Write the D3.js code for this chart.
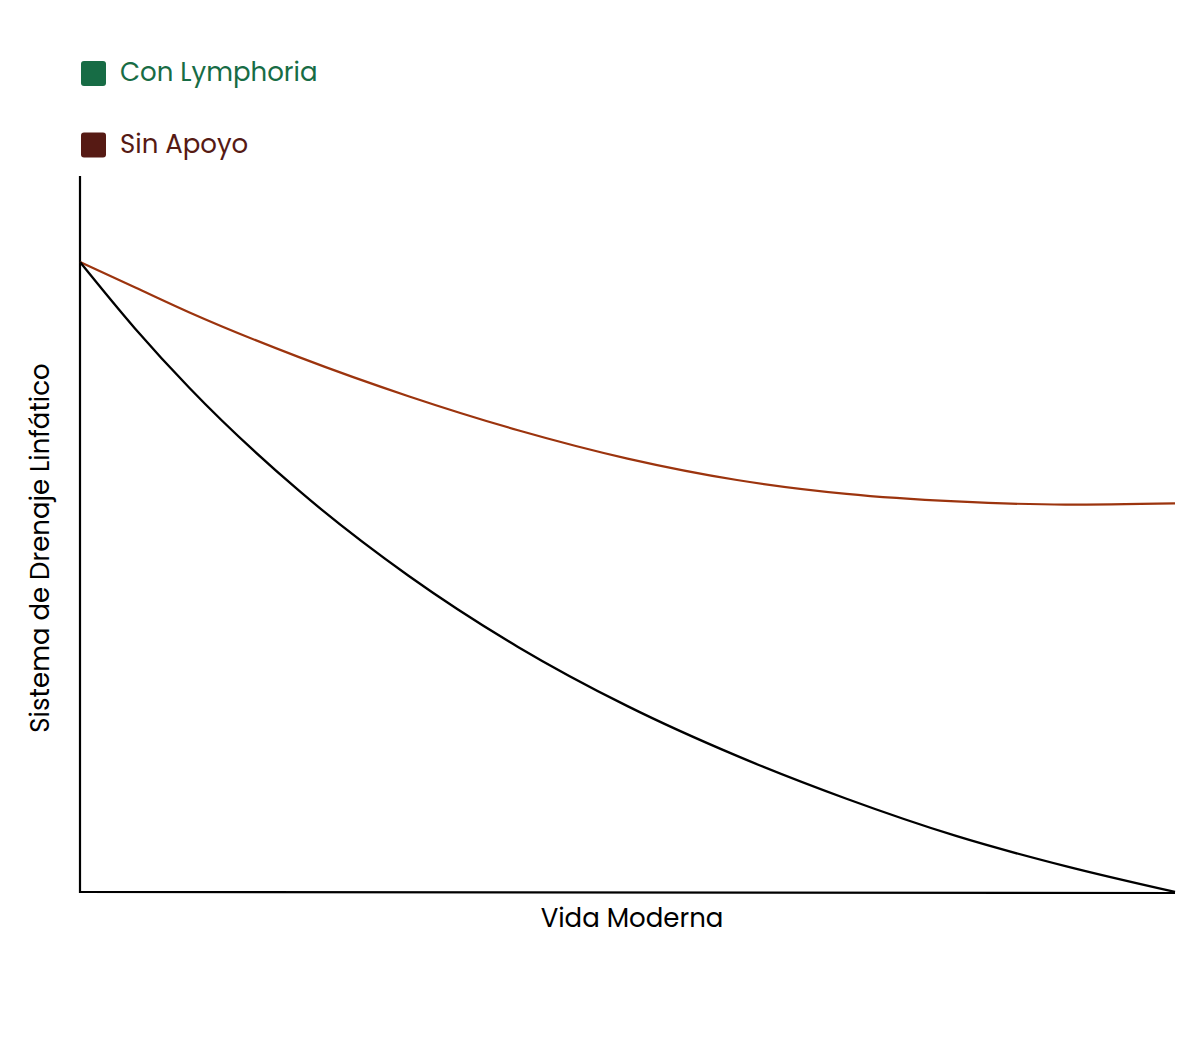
<!DOCTYPE html>
<html>
<head>
<meta charset="utf-8">
<script src="https://cdn.jsdelivr.net/npm/d3@7"></script>
<style>
  body { margin: 0; background: #fff; }
  text { font-family: Poppins, Inter, "Noto Sans", sans-serif; }
</style>
</head>
<body>
<div id="chart"></div>
<script>
// data (x: 0..10, y: 0..100)
var xValues = [0, 0.5, 1, 2, 3, 4, 5, 6, 7, 8, 9, 10];
var sinApoyo = [100, 96.0, 92.0, 84.9, 78.7, 73.3, 68.8, 65.4, 63.2, 62.0, 61.5, 61.7];
var conLymphoria = [100, 89.5, 80.0, 63.7, 50.2, 38.9, 29.5, 21.6, 14.8, 8.9, 4.1, 0];
var legendNames = ["Con Lymphoria", "Sin Apoyo"];
var legendColors = ["#176c45", "#561a14"];

var svgWidth = 1200;
var svgHeight = 1051;

var svg = d3.select("#chart")
    .append("svg")
    .attr("width", svgWidth)
    .attr("height", svgHeight);

var xScale = d3.scaleLinear().domain([0, 10]).range([80, 1175]);
var yScale = d3.scaleLinear().domain([0, 100]).range([892, 262]);

// axes as plain lines
svg.append("line")
    .attr("x1", 80).attr("y1", 176)
    .attr("x2", 80).attr("y2", 893)
    .attr("stroke", "#000").attr("stroke-width", 2.2);

svg.append("line")
    .attr("x1", 79).attr("y1", yScale(0))
    .attr("x2", xScale(10)).attr("y2", yScale(0) + 1)
    .attr("stroke", "#000").attr("stroke-width", 2.2);

var line = d3.line()
    .x(function (d, i) { return xScale(xValues[i]); })
    .y(function (d) { return yScale(d); })
    .curve(d3.curveMonotoneX);

svg.append("path")
    .datum(sinApoyo)
    .attr("d", line)
    .attr("fill", "none")
    .attr("stroke", "#9c340e")
    .attr("stroke-width", 2.2);

svg.append("path")
    .datum(conLymphoria)
    .attr("d", line)
    .attr("fill", "none")
    .attr("stroke", "#000")
    .attr("stroke-width", 2.3);

// legend
var legend = svg.selectAll(".legend")
    .data(legendNames)
    .enter()
    .append("g")
    .attr("transform", function (d, i) { return "translate(81," + (61 + i * 71.5) + ")"; });

legend.append("rect")
    .attr("width", 25).attr("height", 25)
    .attr("rx", 3)
    .attr("fill", function (d, i) { return legendColors[i]; });

legend.append("text")
    .attr("x", 39).attr("y", 20)
    .attr("font-size", 26)
    .attr("fill", function (d, i) { return legendColors[i]; })
    .text(function (d) { return d; });

// axis labels
svg.append("text")
    .attr("x", 632).attr("y", 927)
    .attr("text-anchor", "middle")
    .attr("font-size", 26)
    .attr("fill", "#000")
    .text("Vida Moderna");

svg.append("text")
    .attr("transform", "translate(49, 548) rotate(-90)")
    .attr("text-anchor", "middle")
    .attr("font-size", 26)
    .attr("fill", "#000")
    .text("Sistema de Drenaje Linfático");
</script>
</body>
</html>
